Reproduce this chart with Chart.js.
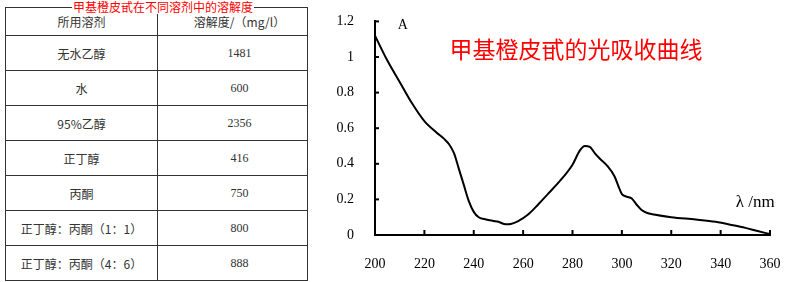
<!DOCTYPE html>
<html>
<head>
<meta charset="UTF-8">
<title>甲基橙皮甙</title>
<style>
  body { margin: 0; width: 800px; height: 282px; background: #fff; overflow: hidden; position: relative; }
  #tbl { position: absolute; left: 5px; top: 7px; width: 302px; border-collapse: collapse; table-layout: fixed;
         font-family: "Noto Sans CJK SC", sans-serif; font-size: 12px; color: #333; }
  #tbl td { border: 1px solid #333; height: 34px; padding: 0; text-align: center; }
  #tbl tr.head td { height: 27px; }
  #tbl td.num { font-family: "Liberation Serif", serif; font-size: 12px; padding-left: 14px; }
  #tblTitle { position: absolute; left: 72px; top: 0; height: 14px; line-height: 14px; padding: 0 1px; background: #fff;
              font-family: "Noto Sans CJK SC", sans-serif; font-size: 12px; color: #f00; }
  #wrap { position: absolute; left: 320px; top: 0; width: 480px; height: 282px; }
</style>
</head>
<body>
<table id="tbl"></table>
<div id="tblTitle">甲基橙皮甙在不同溶剂中的溶解度</div>
<div id="wrap"><canvas id="absChart" width="480" height="282"></canvas></div>

<script src="https://cdn.jsdelivr.net/npm/chart.js"></script>
<script>
// table data
const tableHeader = ['所用溶剂', '溶解度/（mg/l）'];
const solvents = ['无水乙醇', '水', '95%乙醇', '正丁醇', '丙酮', '正丁醇：丙酮（1：1）', '正丁醇：丙酮（4：6）'];
const solubility = [1481, 600, 2356, 416, 750, 800, 888];

// absorption curve
const wavelengths = [200, 205, 210, 215, 220, 225, 228, 230, 232, 234, 236, 238, 240, 242, 245, 248, 250, 253, 255, 258,
  262, 266, 270, 275, 280, 283, 285, 287, 289, 291, 294, 297, 299, 300, 302, 304, 306, 308, 310, 313, 320, 330,
  338, 345, 350, 355, 360];
const absorbance = [1.12, 0.98, 0.86, 0.74, 0.64, 0.575, 0.54, 0.51, 0.46, 0.37, 0.28, 0.19, 0.13, 0.10, 0.087, 0.079,
  0.074, 0.06, 0.062, 0.078, 0.115, 0.17, 0.23, 0.305, 0.395, 0.475, 0.5, 0.495, 0.46, 0.43, 0.39, 0.33, 0.26,
  0.23, 0.215, 0.205, 0.17, 0.14, 0.125, 0.115, 0.1, 0.087, 0.074, 0.055, 0.04, 0.022, 0.005];

const xTicks = [200, 220, 240, 260, 280, 300, 320, 340, 360];
const yTicks = [0, 0.2, 0.4, 0.6, 0.8, 1, 1.2];
const chartTitle = '甲基橙皮甙的光吸收曲线';
const yAxisName = 'A';
const xAxisName = 'λ /nm';

// build the table
const tbl = document.getElementById('tbl');
let rowsHtml = '<colgroup><col style="width:152px"><col style="width:150px"></colgroup>';
rowsHtml += '<tr class="head"><td>' + tableHeader[0] + '</td><td class="num" style="font-family:\'Noto Sans CJK SC\'">' + tableHeader[1] + '</td></tr>';
solvents.forEach((s, i) => {
  rowsHtml += '<tr><td>' + s + '</td><td class="num">' + solubility[i] + '</td></tr>';
});
tbl.innerHTML = rowsHtml;

// inward tick marks + labels written on the plot
const extras = {
  id: 'extras',
  afterDraw(chart) {
    const { ctx, scales: { x, y }, chartArea } = chart;
    ctx.save();
    ctx.strokeStyle = '#000';
    ctx.lineWidth = 2;
    xTicks.slice(1).forEach(v => {
      const px = x.getPixelForValue(v);
      ctx.beginPath(); ctx.moveTo(px, chartArea.bottom); ctx.lineTo(px, chartArea.bottom - 5); ctx.stroke();
    });
    yTicks.slice(1).forEach(v => {
      const py = y.getPixelForValue(v);
      ctx.beginPath(); ctx.moveTo(chartArea.left, py); ctx.lineTo(chartArea.left + 4, py); ctx.stroke();
    });

    ctx.textAlign = 'center';
    ctx.textBaseline = 'middle';
    ctx.fillStyle = '#000';
    ctx.font = '14px "Liberation Serif"';
    ctx.fillText(yAxisName, x.getPixelForValue(211.3), y.getPixelForValue(1.178));
    ctx.font = '17px "Liberation Serif"';
    ctx.fillText(xAxisName, x.getPixelForValue(354), y.getPixelForValue(0.18));
    ctx.fillStyle = '#f00';
    ctx.font = '23px "Noto Sans CJK SC"';
    ctx.fillText(chartTitle, x.getPixelForValue(281.4), y.getPixelForValue(1.042));
    ctx.restore();
  }
};

const tickFont = { family: 'Liberation Serif', size: 14 };

new Chart(document.getElementById('absChart'), {
  type: 'line',
  data: {
    datasets: [{
      data: wavelengths.map((w, i) => ({ x: w, y: absorbance[i] })),
      borderColor: '#000',
      borderWidth: 2,
      pointRadius: 0,
      fill: false,
      cubicInterpolationMode: 'monotone'
    }]
  },
  options: {
    responsive: false,
    animation: false,
    layout: { padding: { left: 0, right: 30, top: 15, bottom: 0 } },
    plugins: { legend: { display: false }, tooltip: { enabled: false } },
    scales: {
      x: {
        type: 'linear', min: 200, max: 360,
        afterBuildTicks: s => { s.ticks = xTicks.map(v => ({ value: v })); },
        afterFit: s => { s.height = 47; },
        grid: { display: false },
        border: { color: '#000', width: 2 },
        ticks: { padding: 13, color: '#000', font: tickFont, callback: v => String(v), maxRotation: 0 }
      },
      y: {
        min: 0, max: 1.2,
        afterBuildTicks: s => { s.ticks = yTicks.map(v => ({ value: v })); },
        afterFit: s => { s.width = 55; },
        grid: { display: false },
        border: { color: '#000', width: 2 },
        ticks: { padding: 13, color: '#000', font: tickFont, callback: v => String(v) }
      }
    }
  },
  plugins: [extras]
});
</script>
</body>
</html>
